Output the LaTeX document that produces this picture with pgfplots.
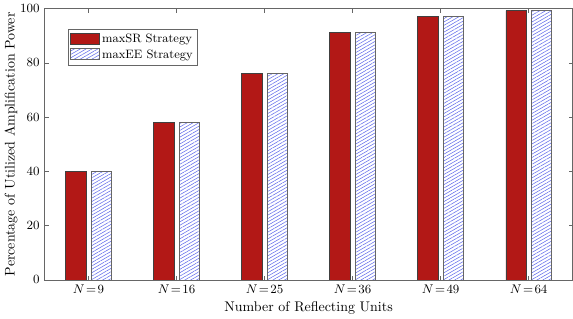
\documentclass[border=0pt]{standalone}
\usepackage{pgfplots}
\pgfplotsset{compat=1.18}
\usetikzlibrary{patterns.meta}
\definecolor{barred}{RGB}{178,24,22}
\definecolor{hatchblue}{RGB}{100,110,235}
\newcommand{\tl}[1]{$N\mkern2mu{=}\mkern2mu#1$}
\begin{document}
\begin{tikzpicture}
\begin{axis}[
  scale only axis,
  width=378pt, height=194pt,
  xmin=-0.5, xmax=5.5,
  ymin=0, ymax=100,
  xtick=data,
  xticklabels={\tl{9},\tl{16},\tl{25},\tl{36},\tl{49},\tl{64}},
  ytick={0,20,40,60,80,100},
  tick align=inside,
  tick pos=both,
  major tick length=3pt,
  axis line style={black!60},
  every tick/.style={black!60},
  tick label style={font=\fontsize{9}{10}\selectfont},
  xlabel={Number of Reflecting Units},
  ylabel={Percentage of Utilized Amplification Power},
  label style={font=\fontsize{10}{12}\selectfont},
  xlabel style={yshift=1pt},
  ylabel style={yshift=-5pt},
  bar width=0.23,
  legend style={at={(0.044,0.926)}, anchor=north west, draw=black!60,
    font=\fontsize{8.7}{10}\selectfont,
    inner sep=1.5pt, row sep=-0.5pt, cells={anchor=west}},
  legend image code/.code={\draw[#1] (0pt,-3.5pt) rectangle (20.5pt,4.5pt);},
]
\addplot[ybar, bar shift=-0.145, fill=barred, draw=black!75, line width=0.4pt]
  coordinates {(0,40) (1,58) (2,76) (3,91.4) (4,97.3) (5,99.3)};
\addplot[ybar, bar shift=0.145, draw=black!60, line width=0.4pt,
  pattern={Lines[angle=30,distance=2.1pt,line width=0.4pt]}, pattern color=hatchblue]
  coordinates {(0,40) (1,58) (2,76) (3,91.4) (4,97.3) (5,99.3)};
\legend{maxSR Strategy, maxEE Strategy}
\end{axis}
\end{tikzpicture}
\end{document}
